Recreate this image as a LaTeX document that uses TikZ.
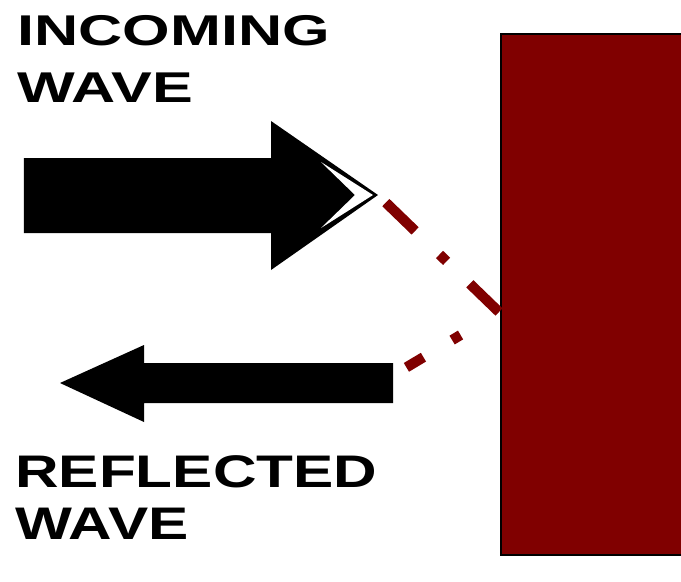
\documentclass[tikz,border=0pt]{standalone}
\usepackage{fontspec}
\newfontfamily\incomingfont[FakeStretch=1.42]{Liberation Sans}
\newfontfamily\reflectfont[FakeStretch=1.32]{Liberation Sans}
\definecolor{wallred}{HTML}{800000}

\begin{document}
\begin{tikzpicture}[x=0.02cm, y=-0.02cm,
    wavelabel/.style={anchor=north west, inner sep=0pt, align=left},
    ray/.style={wallred, line width=5.8pt}]
  \useasboundingbox (0,0) rectangle (681,582);

  % wall
  \fill[wallred] (501,34) rectangle (681,555);
  \draw[line width=1.4pt] (681,34) -- (501,34) -- (501,555) -- (681,555);
  \coordinate (hit) at (499,312);

  % incoming arrow
  \fill (24,158) -- (271,158) -- (271,121) -- (378,195) coordinate (intip)
    -- (271,270) -- (271,233) -- (24,233) -- cycle;
  \fill[white] (321,162) -- (373,195) -- (321,228) -- (355,195) -- cycle;

  % reflected arrow
  \fill (393,363) -- (144,363) -- (144,345) -- (60,383) -- (144,422)
    -- (144,403) -- (393,403) -- cycle;
  \coordinate (reftail) at (397,373);

  % ray path
  \draw[ray, dash pattern=on 23.2pt off 19.3pt on 5.6pt off 18.4pt, dash phase=60.3pt] (intip) -- (hit);
  \draw[ray, dash pattern=on 5.6pt off 19pt on 11.3pt off 80pt, dash phase=90.4pt] (hit) -- (reftail);

  \node[wavelabel, font=\incomingfont\bfseries\fontsize{24.5}{32.3}\selectfont] (incoming) at (17,15) {INCOMING\\WAVE};
  \node[wavelabel, font=\reflectfont\bfseries\fontsize{26}{29.5}\selectfont] (reflected) at (15,455) {REFLECTED\\WAVE};
\end{tikzpicture}
\end{document}
